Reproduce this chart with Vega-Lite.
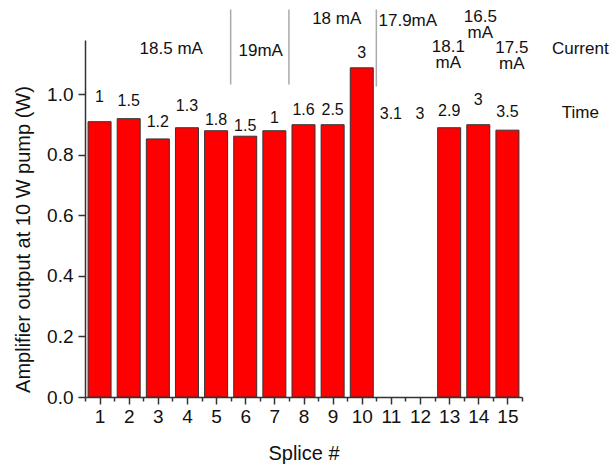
{
  "$schema": "https://vega.github.io/schema/vega-lite/v6.json",
  "autosize": {"type": "none"},
  "padding": {"left": 85, "top": 40, "right": 88, "bottom": 69},
  "width": 437,
  "height": 357,
  "background": "white",
  "config": {"view": {"stroke": null}, "font": "Liberation Sans", "axis": {"grid": false}},
  "datasets": {
    "splices": [
      {"splice": 1, "output": 0.91, "time": "1", "time_y": 0.993},
      {"splice": 2, "output": 0.92, "time": "1.5", "time_y": 0.978},
      {"splice": 3, "output": 0.853, "time": "1.2", "time_y": 0.908},
      {"splice": 4, "output": 0.89, "time": "1.3", "time_y": 0.961},
      {"splice": 5, "output": 0.88, "time": "1.8", "time_y": 0.917},
      {"splice": 6, "output": 0.862, "time": "1.5", "time_y": 0.897},
      {"splice": 7, "output": 0.88, "time": "1", "time_y": 0.923},
      {"splice": 8, "output": 0.9, "time": "1.6", "time_y": 0.948},
      {"splice": 9, "output": 0.9, "time": "2.5", "time_y": 0.948},
      {"splice": 10, "output": 1.088, "time": "3", "time_y": 1.136},
      {"splice": 11, "output": null, "time": "3.1", "time_y": 0.934},
      {"splice": 12, "output": null, "time": "3", "time_y": 0.937},
      {"splice": 13, "output": 0.89, "time": "2.9", "time_y": 0.946},
      {"splice": 14, "output": 0.9, "time": "3", "time_y": 0.983},
      {"splice": 15, "output": 0.882, "time": "3.5", "time_y": 0.941}
    ],
    "currents": [
      {"x": 3.46, "y": 1.149, "label": "18.5 mA"},
      {"x": 6.53, "y": 1.142, "label": "19mA"},
      {"x": 9.14, "y": 1.248, "label": "18 mA"},
      {"x": 11.58, "y": 1.243, "label": "17.9mA"},
      {"x": 12.97, "y": 1.158, "label": "18.1\nmA"},
      {"x": 14.07, "y": 1.255, "label": "16.5\nmA"},
      {"x": 15.15, "y": 1.153, "label": "17.5\nmA"},
      {"x": 17.5, "y": 1.149, "label": "Current"},
      {"x": 17.5, "y": 0.939, "label": "Time"}
    ],
    "groups": [
      {"boundary": 5.5, "bottom": 1.033, "top": 1.281},
      {"boundary": 7.5, "bottom": 1.033, "top": 1.281},
      {"boundary": 10.5, "bottom": 1.026, "top": 1.281}
    ]
  },
  "resolve": {"axis": {"x": "independent"}},
  "layer": [
    {
      "data": {"name": "splices"},
      "mark": {"type": "bar", "orient": "vertical", "width": 23, "color": "#ff0000", "stroke": "#333333", "strokeWidth": 1},
      "encoding": {
        "x": {
          "field": "splice", "type": "quantitative",
          "scale": {"domain": [0.5, 15.5], "nice": false, "zero": false, "padding": 0},
          "axis": {
            "orient": "bottom",
            "title": "Splice #",
            "values": [1, 2, 3, 4, 5, 6, 7, 8, 9, 10, 11, 12, 13, 14, 15],
            "format": "d",
            "tickSize": 7,
            "tickColor": "#333333", "tickWidth": 1.5,
            "domainColor": "#333333", "domainWidth": 1.5,
            "labelFontSize": 19, "labelColor": "#111111", "labelPadding": 3,
            "labelOverlap": false, "labelFlush": false, "labelBound": false,
            "titleFontSize": 20, "titleFontWeight": "normal", "titleColor": "#111111", "titlePadding": 17
          }
        },
        "y": {
          "field": "output", "type": "quantitative",
          "scale": {"domain": [0, 1.18], "nice": false, "padding": 0},
          "axis": {
            "title": "Amplifier output at 10 W pump (W)",
            "values": [0, 0.1, 0.2, 0.3, 0.4, 0.5, 0.6, 0.7, 0.8, 0.9, 1.0, 1.1],
            "labelExpr": "round(datum.value * 10) % 2 === 0 ? format(datum.value, '.1f') : ''",
            "tickSize": {"condition": {"test": "round(datum.value * 10) % 2 === 0", "value": 7}, "value": 4},
            "tickColor": "#333333", "tickWidth": 1.5,
            "domainColor": "#333333", "domainWidth": 1.5,
            "labelFontSize": 19, "labelColor": "#111111", "labelPadding": 5,
            "labelOverlap": false, "labelFlush": false, "labelBound": false,
            "titleFontSize": 20, "titleFontWeight": "normal", "titleColor": "#111111",
            "titlePadding": 13, "titleY": 199
          }
        }
      }
    },
    {
      "data": {"name": "splices"},
      "mark": {"type": "text", "fontSize": 16, "baseline": "middle", "align": "center", "color": "#111111"},
      "encoding": {
        "x": {
          "field": "splice", "type": "quantitative",
          "axis": {
            "orient": "bottom", "title": null, "labels": false, "domain": false,
            "values": [0.5, 1.5, 2.5, 3.5, 4.5, 5.5, 6.5, 7.5, 8.5, 9.5, 10.5, 11.5, 12.5, 13.5, 14.5, 15.5],
            "tickSize": 4, "tickColor": "#333333", "tickWidth": 1.5
          }
        },
        "y": {"field": "time_y", "type": "quantitative"},
        "text": {"field": "time"}
      }
    },
    {
      "data": {"name": "groups"},
      "mark": {"type": "rule", "color": "#aaaaaa", "strokeWidth": 1.5},
      "encoding": {
        "x": {"field": "boundary", "type": "quantitative", "axis": null},
        "y": {"field": "bottom", "type": "quantitative"},
        "y2": {"field": "top"}
      }
    },
    {
      "data": {"name": "currents"},
      "mark": {"type": "text", "fontSize": 17, "baseline": "middle", "align": "center", "lineBreak": "\n", "lineHeight": 16, "color": "#111111"},
      "encoding": {
        "x": {"field": "x", "type": "quantitative", "axis": null},
        "y": {"field": "y", "type": "quantitative"},
        "text": {"field": "label"}
      }
    }
  ]
}
